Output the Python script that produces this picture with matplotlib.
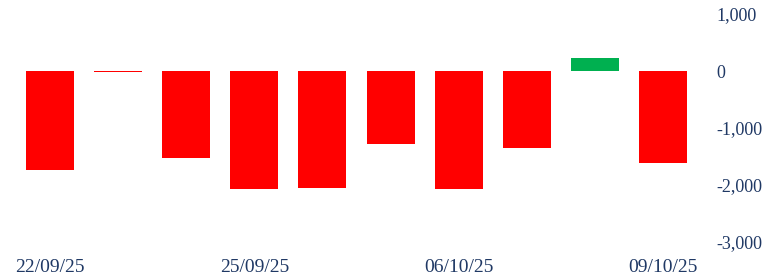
import matplotlib
matplotlib.use("Agg")
import matplotlib.pyplot as plt

# Values
dates = ["22/09/25", "23/09/25", "24/09/25", "25/09/25", "26/09/25",
         "29/09/25", "06/10/25", "07/10/25", "08/10/25", "09/10/25"]
values = [-1740, -20, -1525, -2070, -2055, -1280, -2070, -1350, 230, -1615]
shown_labels = [0, 3, 6, 9]
yticks = [1000, 0, -1000, -2000, -3000]

text_color = "#1F3864"
colors = ["#00B050" if v > 0 else "#FF0000" for v in values]

fig = plt.figure(figsize=(7.66, 2.76), dpi=100)
ax = fig.add_axes([16 / 766, 1 - 242 / 276, (697 - 16) / 766, (242 - 14) / 276])

x = list(range(len(values)))
ax.bar(x, values, width=0.705, color=colors)

ax.set_xlim(-0.5, len(values) - 0.5)
ax.set_ylim(-3000, 1000)

ax.yaxis.tick_right()
ax.set_yticks(yticks)
ax.set_yticklabels([f"{t:,}" for t in yticks])
ax.set_xticks(shown_labels)
ax.set_xticklabels([dates[i] for i in shown_labels])

ax.tick_params(axis="y", length=0, pad=14, labelsize=13, labelcolor=text_color)
ax.tick_params(axis="x", length=0, pad=12, labelsize=14, labelcolor=text_color)
for lab in ax.get_xticklabels() + ax.get_yticklabels():
    lab.set_family("Liberation Serif")

for s in ax.spines.values():
    s.set_visible(False)

fig.savefig("out.png", dpi=100)
